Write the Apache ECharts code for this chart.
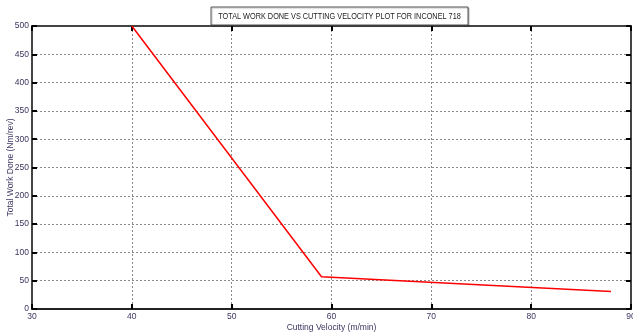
<!DOCTYPE html>
<html>
<head>
<meta charset="utf-8">
<script src="https://cdn.jsdelivr.net/npm/echarts@6/dist/echarts.min.js"></script>
<style>
  html, body { margin: 0; padding: 0; background: #fff; }
  #chart { width: 633px; height: 336px; }
</style>
</head>
<body>
<div id="chart"></div>
<script>
// Valeurs (vitesse de coupe m/min, travail Nm/rev)
const velocity = [40, 59, 88];
const workDone = [500, 57, 31];
const xTicks = [30, 40, 50, 60, 70, 80, 90];
const yTicks = [0, 50, 100, 150, 200, 250, 300, 350, 400, 450, 500];
const titleText = "TOTAL WORK DONE VS CUTTING VELOCITY PLOT FOR INCONEL 718";

const chart = echarts.init(document.getElementById("chart"));

const labelColor = "#3a3560";
const gridLine = { show: true, lineStyle: { color: "#8a8a8a", type: [2, 2], width: 1 } };
const tickIn = { show: true, inside: true, length: 5, lineStyle: { color: "#000", width: 2 } };

chart.setOption({
  animation: false,
  grid: { left: 32, right: 2, top: 26, bottom: 27, outerBoundsMode: "none", containLabel: false },
  xAxis: [
    {
      type: "value", min: xTicks[0], max: xTicks[xTicks.length - 1], interval: 10,
      name: "Cutting Velocity (m/min)", nameLocation: "middle", nameGap: 14, nameMoveOverlap: false,
      nameTextStyle: { fontFamily: "Liberation Sans", fontSize: 8.5, color: labelColor },
      axisLine: { show: true, lineStyle: { color: "#222", width: 2 } },
      axisTick: tickIn,
      axisLabel: { fontFamily: "Liberation Sans", fontSize: 8.5, color: labelColor, margin: 3 },
      splitLine: gridLine
    },
    {
      type: "value", position: "top", min: xTicks[0], max: xTicks[xTicks.length - 1], interval: 10,
      axisLine: { show: true, onZero: false, lineStyle: { color: "#444", width: 2 } },
      axisTick: tickIn, axisLabel: { show: false }, splitLine: { show: false }
    }
  ],
  yAxis: [
    {
      type: "value", min: yTicks[0], max: yTicks[yTicks.length - 1], interval: 50,
      name: "Total Work Done (Nm/rev)", nameLocation: "middle", nameGap: 17, nameMoveOverlap: false,
      nameTextStyle: { fontFamily: "Liberation Sans", fontSize: 8.5, color: labelColor },
      axisLine: { show: true, lineStyle: { color: "#444", width: 2 } },
      axisTick: tickIn,
      axisLabel: { fontFamily: "Liberation Sans", fontSize: 8.5, color: labelColor, margin: 3 },
      splitLine: gridLine
    },
    {
      type: "value", position: "right", min: yTicks[0], max: yTicks[yTicks.length - 1], interval: 50,
      axisLine: { show: true, onZero: false, lineStyle: { color: "#444", width: 2 } },
      axisTick: tickIn, axisLabel: { show: false }, splitLine: { show: false }
    }
  ],
  // Cartouche du titre, police un peu resserree comme l'original
  graphic: [
    {
      type: "rect",
      shape: { x: 211, y: 7, width: 257, height: 18 },
      style: { fill: "#fff", stroke: "#555", lineWidth: 1, shadowColor: "rgba(0,0,0,0.25)", shadowOffsetX: 1, shadowOffsetY: 1, shadowBlur: 1 },
      z: 100
    },
    {
      type: "text",
      x: 339.5, y: 16.5,
      scaleX: 0.86,
      style: { text: titleText, fontFamily: "Liberation Sans", fontSize: 8.5, fill: "#222", align: "center", verticalAlign: "middle" },
      z: 101
    }
  ],
  series: [
    {
      type: "line",
      data: velocity.map((v, i) => [v, workDone[i]]),
      showSymbol: false,
      lineStyle: { color: "#ff0000", width: 1.5 },
      itemStyle: { color: "#ff0000" }
    }
  ]
});
</script>
</body>
</html>
